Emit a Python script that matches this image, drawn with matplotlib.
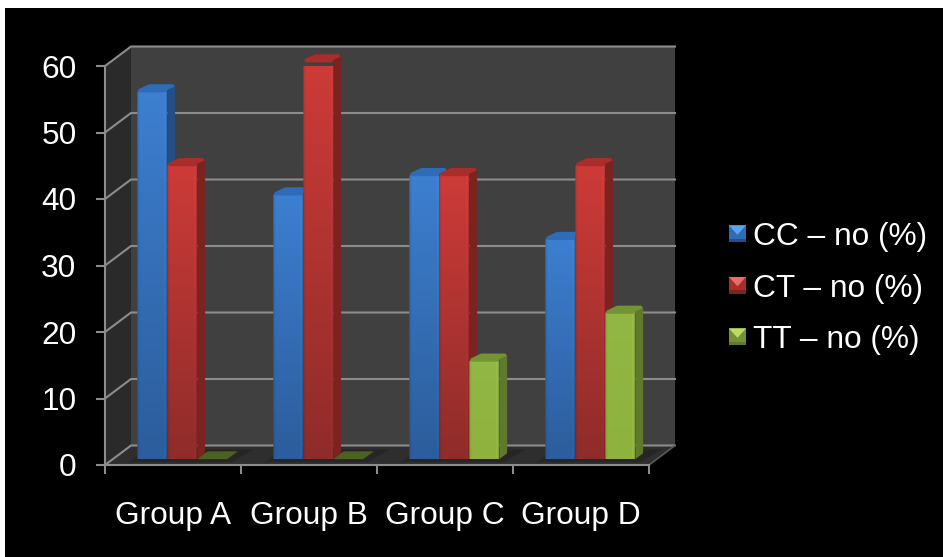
import numpy as np
import matplotlib
matplotlib.use("Agg")
import matplotlib.pyplot as plt
from matplotlib.legend_handler import HandlerBase
from matplotlib.patches import Polygon, Rectangle, Patch

# Data
groups = ["Group A", "Group B", "Group C", "Group D"]
series_names = ["CC \u2013 no (%)", "CT \u2013 no (%)", "TT \u2013 no (%)"]
cc_values = [55.5, 40, 42.9, 33.3]
ct_values = [44.4, 60, 42.9, 44.4]
tt_values = [0, 0, 15, 22.2]
y_ticks = [0, 10, 20, 30, 40, 50, 60]

# Per-series shades: gradient top, gradient bottom, side, cap, legend highlight
palette = [
    dict(top="#3d7fd0", bottom="#2c5d9c", side="#234f85", cap="#2f6cb8", hi="#5aa5ee"),
    dict(top="#cd3b38", bottom="#8f2c2a", side="#7a2320", cap="#a92e2b", hi="#ee6a66"),
    dict(top="#93b744", bottom="#8fb23f", side="#5f7a2d", cap="#739434", hi="#bcdc62"),
]
FLAT_GREEN = "#4d6122"

W, H = 943, 557
fig = plt.figure(figsize=(W / 100, H / 100), dpi=100, facecolor="white")
plt.rcParams["font.family"] = ["Liberation Sans", "DejaVu Sans"]
FS = 22.8
GRID = "#8c8c8c"

# Black slide background, leaving the thin white strip at the left and top
fig.patches.append(Rectangle((5 / W, 0), 1, 1 - 8 / H, transform=fig.transFigure,
                             facecolor="black", edgecolor="none", zorder=-5))

ax = fig.add_axes([105 / W, (H - 465) / H, 544 / W, 399 / H])
ax.set_xlim(0, 4)
ax.set_ylim(0, 60)
ax.patch.set_alpha(0)
for s in ax.spines.values():
    s.set_visible(False)

# Oblique projection: depth 1 is the back wall of the chart box
DX = 26 / 136
DY = 19.5 / 6.65


def pt(x, v, d=0.0):
    return (x + d * DX, v + d * DY)


def poly(points, color, z=1, **kw):
    ax.add_patch(Polygon(points, closed=True, facecolor=color, edgecolor="none",
                         zorder=z, clip_on=False, **kw))


# Chart box walls
poly([pt(0, 0, 1), pt(4, 0, 1), pt(4, 60, 1), pt(0, 60, 1)], "#404040", 1)
poly([pt(0, 0, 0), pt(0, 0, 1), pt(0, 60, 1), pt(0, 60, 0)], "#2a2a2a", 1)
poly([pt(0, 0, 0), pt(4, 0, 0), pt(4, 0, 1), pt(0, 0, 1)], "#2e2e2e", 1)

# Gridlines on the back and side walls
for v in y_ticks:
    ax.plot(*zip(pt(0, v, 0), pt(0, v, 1), pt(4, v, 1)), color=GRID, lw=1.5,
            zorder=2, clip_on=False, solid_joinstyle="miter")
ax.plot(*zip(pt(4, 0, 0), pt(4, 0, 1)), color="#5a5a5a", lw=1.2, zorder=2, clip_on=False)

# Front axis lines and ticks
ax.set_xticks(range(5))
ax.set_xticklabels([])
ax.set_yticks(y_ticks)
ax.tick_params(axis="both", color=GRID, width=1.5, length=6.5, labelcolor="white",
               labelsize=FS, pad=14)
ax.tick_params(axis="x", length=6.5)
for side in ("left", "bottom"):
    ax.spines[side].set_visible(True)
    ax.spines[side].set_color(GRID)
    ax.spines[side].set_linewidth(1.5)
    ax.spines[side].set_zorder(6)
ax.set_xticks([i + 0.5 for i in range(4)], minor=True)
ax.set_xticklabels(groups, minor=True, fontsize=FS, color="white")
ax.tick_params(axis="x", which="minor", length=0, pad=26)

# Bars
BAR_W = 30 / 136
D0, D1 = 0.30, 0.60
X_SHIFT = 1.5 / 136
BEVEL_V = 2.3 / 6.65       # height of the rounded top edge, in value units
CORNER_X = 2.0 / 136       # corner cut, in category units
CORNER_V = 2.0 / 6.65
all_values = [cc_values, ct_values, tt_values]


def vertical_gradient(top, bottom, n=64):
    a = np.array(matplotlib.colors.to_rgb(top))
    b = np.array(matplotlib.colors.to_rgb(bottom))
    t = np.linspace(0, 1, n)[:, None]
    column = a * (1 - t) + b * t
    # Soft bevel along the vertical edges of the bar face
    shade = np.ones(24)
    shade[:2] = [0.88, 0.96]
    shade[-2:] = [1.07, 0.90]
    return np.clip(column[:, None, :] * shade[None, :, None], 0, 1)


for i in range(len(groups)):
    x_left = i + 0.5 - 1.5 * BAR_W + X_SHIFT
    # Contact shadow on the floor beneath each group
    poly([pt(x_left - 0.04, 0, D0 - 0.15), pt(x_left + 3 * BAR_W + 0.06, 0, D0 - 0.15),
          pt(x_left + 3 * BAR_W + 0.1, 0, D1 + 0.2), pt(x_left - 0.02, 0, D1 + 0.2)],
         "#262626", 2)
    for j, values in enumerate(all_values):
        v = values[i]
        c = palette[j]
        x0 = x_left + j * BAR_W
        x1 = x0 + BAR_W
        z = 3 + j * 0.1
        if v == 0:
            poly([pt(x0, 0, D0), pt(x1, 0, D0), pt(x1, 0, D1 + 0.1), pt(x0, 0, D1 + 0.1)],
                 FLAT_GREEN, z)
            continue
        # Side face with a clipped upper corner
        poly([pt(x1, 0, D0), pt(x1, 0, D1), pt(x1, v - CORNER_V, D1),
              pt(x1 - CORNER_X, v, D1), pt(x1, v, D0)], c["side"], z)
        fx0, fy0 = pt(x0, 0, D0)
        fx1, fy1 = pt(x1, v, D0)
        im = ax.imshow(vertical_gradient(c["top"], c["bottom"]),
                       extent=(fx0, fx1, fy0, fy1), aspect="auto", origin="upper",
                       zorder=z + 0.01, interpolation="bilinear")
        # Face outline with chamfered top corners
        outline = Polygon([(fx0, fy0), (fx1, fy0), (fx1, fy1 - CORNER_V),
                           (fx1 - CORNER_X, fy1), (fx0 + CORNER_X, fy1),
                           (fx0, fy1 - CORNER_V)], closed=True, transform=ax.transData)
        im.set_clip_path(outline)
        # Rounded cap running over the upper edge of the face
        poly([pt(x0 + CORNER_X, v - BEVEL_V, D0), pt(x1 - CORNER_X, v - BEVEL_V, D0),
              pt(x1, v, D0 + 0.04), pt(x1, v - CORNER_V, D1 - 0.02),
              pt(x1 - CORNER_X, v, D1), pt(x0 + 2 * CORNER_X, v, D1),
              pt(x0, v, D0 + 0.04)], c["cap"], z + 0.02)
ax.set_xlim(0, 4)
ax.set_ylim(0, 60)


class BevelHandler(HandlerBase):
    """Legend swatch drawn as a small bevelled square."""

    def create_artists(self, legend, orig, xd, yd, width, height, fontsize, trans):
        c = orig.shades
        s = 12.2
        x0, y0 = -xd, -yd + (height - s) / 2
        x1, y1 = x0 + s, y0 + s
        band = 2.6
        pieces = [
            ([(x0, y0), (x1, y0), (x1, y1), (x0, y1)], c["cap"]),
            ([(x0, y1), (x1, y1), (x0 + s / 2, y0 + s * 0.45)], c["hi"]),
            ([(x0, y0), (x1, y0), (x1, y0 + band), (x0, y0 + band)], c["side"]),
        ]
        return [Polygon(p, closed=True, facecolor=col, edgecolor="none", transform=trans)
                for p, col in pieces]


handles = []
for name, shades in zip(series_names, palette):
    h = Patch(label=name)
    h.shades = shades
    handles.append(h)

leg = fig.legend(handles=handles, handler_map={Patch: BevelHandler()},
                 loc="center left", bbox_to_anchor=(729 / W, (H - 288.5) / H),
                 frameon=False, fontsize=FS, labelcolor="white", borderpad=0,
                 borderaxespad=0, handlelength=0.535, handleheight=0.7, handletextpad=0.235,
                 labelspacing=0.68)

fig.savefig("out.png", dpi=100, facecolor=fig.get_facecolor())
